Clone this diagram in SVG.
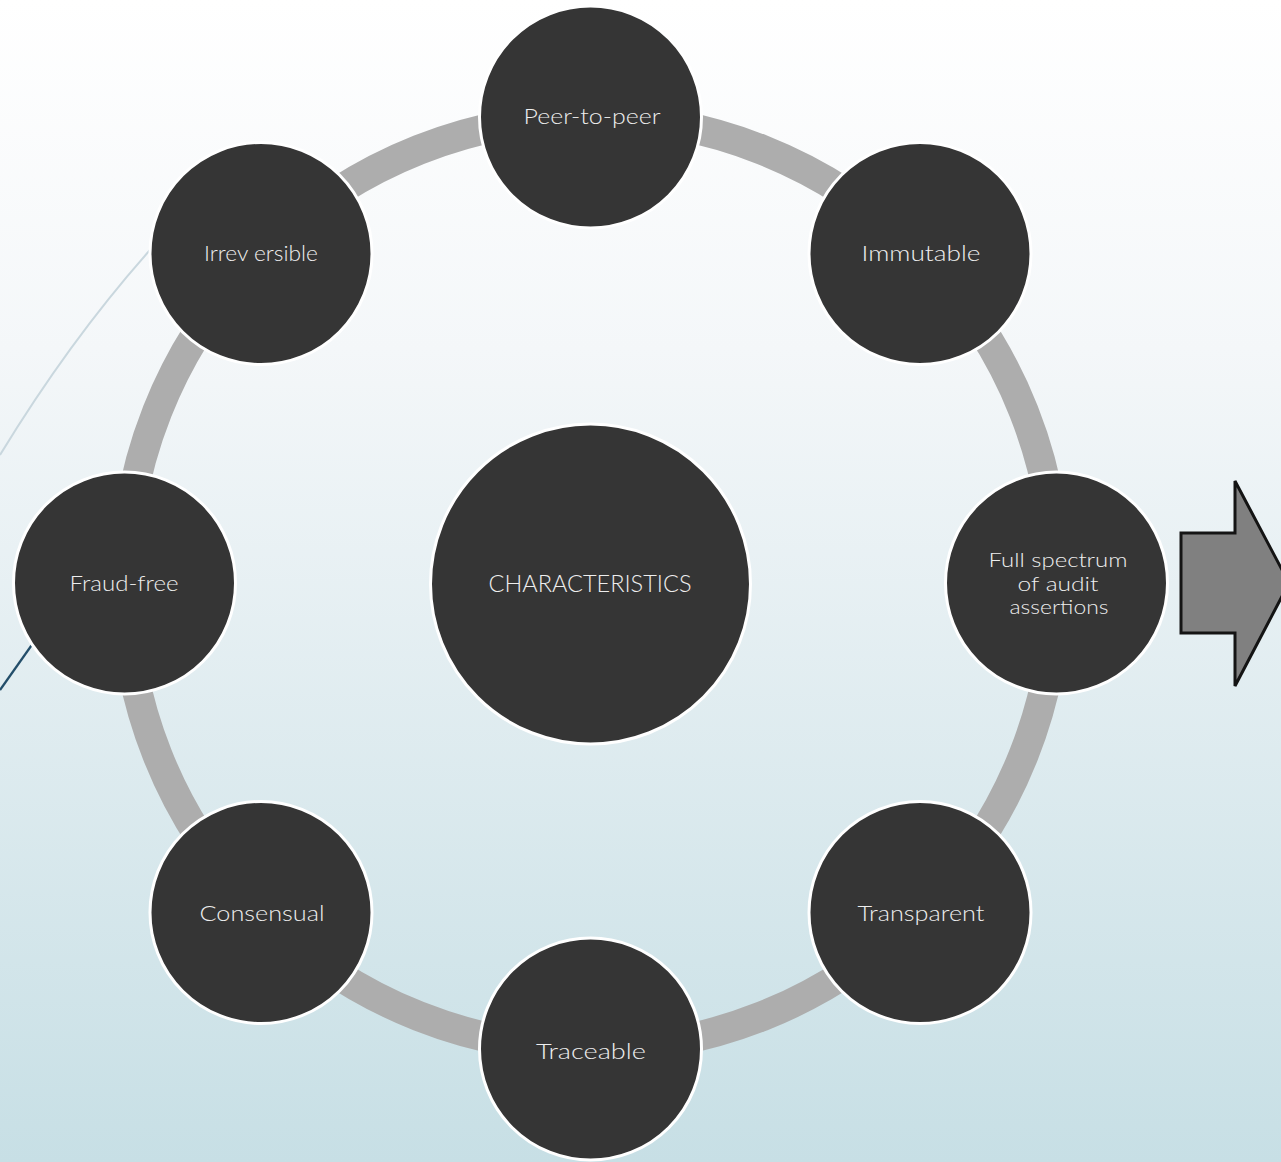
<svg xmlns="http://www.w3.org/2000/svg" width="1281" height="1162" viewBox="0 0 1281 1162">
<defs>
<linearGradient id="bg" x1="0" y1="0" x2="0" y2="1">
<stop offset="0" stop-color="#ffffff"/>
<stop offset="0.3" stop-color="#f4f7f9"/>
<stop offset="1" stop-color="#c7dfe5"/>
</linearGradient>
<style>
.node{fill:#353535;stroke:#ffffff;stroke-width:3}
.lbl{font-family:"Lato","Liberation Sans",Arial,sans-serif;font-weight:300;font-size:22px;fill:#eeeeee;text-anchor:middle}
.sm{font-size:20.5px}
</style>
</defs>
<rect x="0" y="0" width="1281" height="1162" fill="url(#bg)"/>
<path d="M150,250 Q70,340 0,455" fill="none" stroke="#c9d7de" stroke-width="2"/>
<path d="M0,690 L60,605" fill="none" stroke="#234e6a" stroke-width="2.2"/>
<g id="connectors">
<circle cx="590.5" cy="583" r="466" fill="none" stroke="#adadad" stroke-width="30"/>
</g>
<g id="center"><circle class="node" cx="590.5" cy="584" r="160"/><text class="lbl" x="590" y="592" style="font-size:23px" textLength="203" lengthAdjust="spacingAndGlyphs">CHARACTERISTICS</text></g>
<g id="n-peer"><circle class="node" cx="590.5" cy="117" r="111"/><text class="lbl" x="592" y="124" textLength="137" lengthAdjust="spacingAndGlyphs">Peer-to-peer</text></g>
<g id="n-immutable"><circle class="node" cx="920" cy="253.5" r="111"/><text class="lbl" x="921" y="261" textLength="119" lengthAdjust="spacingAndGlyphs">Immutable</text></g>
<g id="n-full"><circle class="node" cx="1056.5" cy="583" r="111"/><text class="lbl sm" x="1058" y="567" textLength="139" lengthAdjust="spacingAndGlyphs">Full spectrum</text><text class="lbl sm" x="1058" y="591" textLength="81" lengthAdjust="spacingAndGlyphs">of audit</text><text class="lbl sm" x="1059" y="614" textLength="99" lengthAdjust="spacingAndGlyphs">assertions</text></g>
<g id="n-transparent"><circle class="node" cx="920" cy="912.5" r="111"/><text class="lbl" x="921" y="921" textLength="127" lengthAdjust="spacingAndGlyphs">Transparent</text></g>
<g id="n-traceable"><circle class="node" cx="590.5" cy="1049" r="111"/><text class="lbl" x="591" y="1059" textLength="110" lengthAdjust="spacingAndGlyphs">Traceable</text></g>
<g id="n-consensual"><circle class="node" cx="261" cy="912.5" r="111"/><text class="lbl" x="262" y="921" textLength="125" lengthAdjust="spacingAndGlyphs">Consensual</text></g>
<g id="n-fraud"><circle class="node" cx="124.5" cy="583" r="111"/><text class="lbl" x="124" y="591" textLength="109" lengthAdjust="spacingAndGlyphs">Fraud-free</text></g>
<g id="n-irreversible"><circle class="node" cx="261" cy="253.5" r="111"/><text class="lbl" x="261" y="261" textLength="114" lengthAdjust="spacingAndGlyphs">Irrev ersible</text></g>
<g id="arrow"><polygon points="1181,533 1235,533 1235,481 1289,583 1235,686 1235,633 1181,633" fill="#808080" stroke="#141414" stroke-width="3" stroke-linejoin="miter"/></g>
</svg>
